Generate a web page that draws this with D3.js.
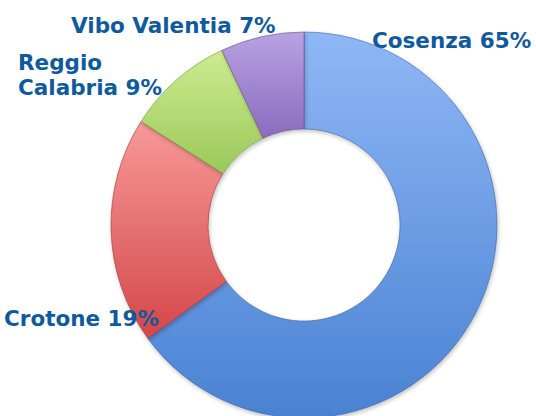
<!DOCTYPE html>
<html><head><meta charset="utf-8">
<script src="https://cdn.jsdelivr.net/npm/d3@7"></script>
<style>html,body{margin:0;padding:0;background:#fff;}svg{display:block;}</style>
</head><body>
<svg id="chart" width="536" height="416"></svg>
<script>
const categories = ["Cosenza", "Crotone", "Reggio Calabria", "Vibo Valentia"];
const values = [65, 19, 9, 7];
const labelLines = [["Cosenza 65%"], ["Crotone 19%"], ["Reggio", "Calabria 9%"], ["Vibo Valentia 7%"]];
const colorsTop = ["#8fb7f6", "#f79a98", "#cdec90", "#b8a2e2"];
const colorsBottom = ["#4a82d2", "#d4464a", "#9ac85a", "#8a6cbe"];

const svg = d3.select("#chart");
const cx = 304, cy = 225, rOuter = 193, rInner = 96;

const defs = svg.append("defs");
categories.forEach((c, i) => {
  const g = defs.append("linearGradient").attr("id", "grad" + i)
    .attr("x1", 0).attr("y1", 0).attr("x2", 0).attr("y2", 1);
  g.append("stop").attr("offset", "0%").attr("stop-color", colorsTop[i]);
  g.append("stop").attr("offset", "100%").attr("stop-color", colorsBottom[i]);
});
const f = defs.append("filter").attr("id", "sh").attr("x", "-10%").attr("y", "-10%").attr("width", "120%").attr("height", "120%");
f.append("feGaussianBlur").attr("in", "SourceAlpha").attr("stdDeviation", 2);
f.append("feOffset").attr("dx", 1).attr("dy", 2).attr("result", "ob");
f.append("feComponentTransfer").append("feFuncA").attr("type", "linear").attr("slope", 0.25);
const m = f.append("feMerge"); m.append("feMergeNode"); m.append("feMergeNode").attr("in", "SourceGraphic");

const pie = d3.pie().sort(null).value(d => d)(values);
const arc = d3.arc().innerRadius(rInner).outerRadius(rOuter);

const g = svg.append("g").attr("transform", `translate(${cx},${cy})`);
g.selectAll("path").data(pie).join("path")
  .attr("d", arc)
  .attr("fill", (d, i) => `url(#grad${i})`)
  .attr("stroke", (d, i) => d3.color(colorsBottom[i]).darker(0.8))
  .attr("stroke-opacity", 0.6)
  .attr("stroke-width", 1)
  .attr("filter", "url(#sh)");

// label layout (pixel anchors for each label block: left x, first baseline y)
const labelPos = [[372, 48], [4, 326], [18, 70], [71, 33]];
const lineH = 25;
const textColor = "#0f5a9c";
labelLines.forEach((lines, i) => {
  const t = svg.append("text")
    .attr("x", labelPos[i][0]).attr("y", labelPos[i][1])
    .attr("font-family", "'DejaVu Sans', sans-serif")
    .attr("font-weight", "bold")
    .attr("font-size", 21.5)
    .attr("fill", textColor);
  lines.forEach((l, j) => {
    t.append("tspan").attr("x", labelPos[i][0]).attr("dy", j === 0 ? 0 : lineH).text(l);
  });
});
</script>
</body></html>
